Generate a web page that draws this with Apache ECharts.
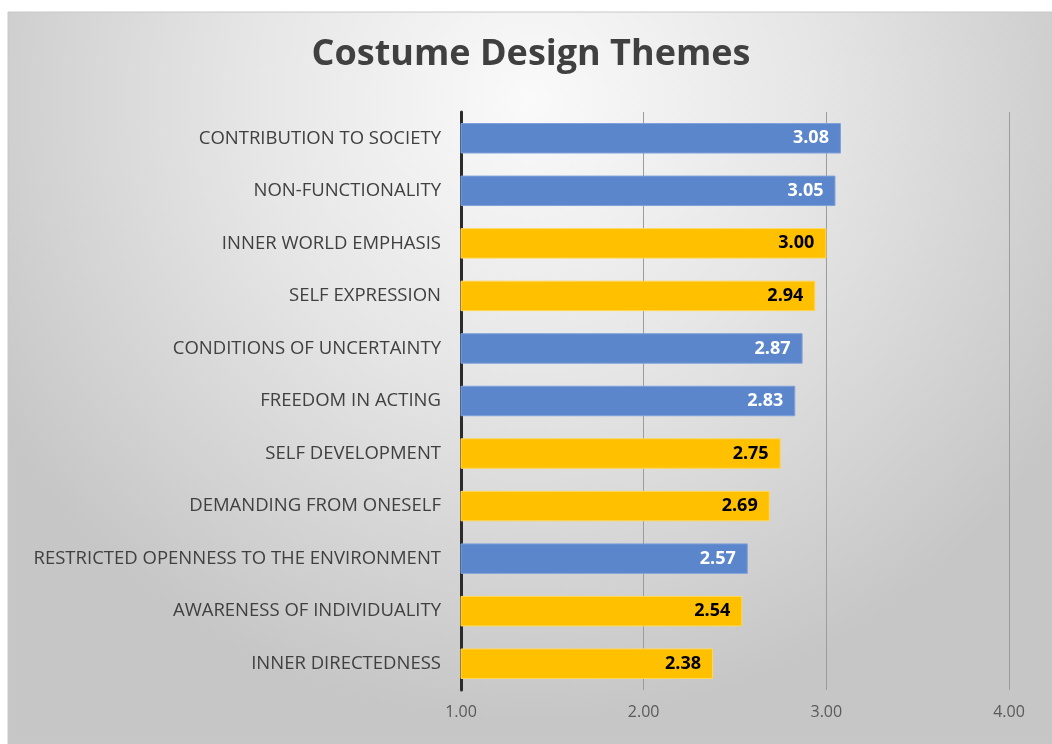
<!DOCTYPE html>
<html>
<head>
<meta charset="utf-8">
<style>
html,body{margin:0;padding:0;background:#ffffff;}
#chart{width:1052px;height:744px;}
</style>
<script src="https://cdn.jsdelivr.net/npm/echarts@6/dist/echarts.min.js"></script>
</head>
<body>
<div id="chart"></div>
<script>
const categories = [
  'CONTRIBUTION TO SOCIETY',
  'NON-FUNCTIONALITY',
  'INNER WORLD EMPHASIS',
  'SELF EXPRESSION',
  'CONDITIONS OF UNCERTAINTY',
  'FREEDOM IN ACTING',
  'SELF DEVELOPMENT',
  'DEMANDING FROM ONESELF',
  'RESTRICTED OPENNESS TO THE ENVIRONMENT',
  'AWARENESS OF INDIVIDUALITY',
  'INNER DIRECTEDNESS'
];
const values = [3.08, 3.05, 3.00, 2.94, 2.87, 2.83, 2.75, 2.69, 2.57, 2.54, 2.38];
const groups = ['blue','blue','yellow','yellow','blue','blue','yellow','yellow','blue','yellow','yellow'];
const xTicks = [1, 2, 3, 4];

const palette = {
  blue: {fill:'#5b86cb', border:'#7ea1da', label:'#ffffff'},
  yellow: {fill:'#ffc000', border:'#ffd75a', label:'#000000'}
};

const chart = echarts.init(document.getElementById('chart'), null, {renderer:'canvas'});
const data = values.map((v,i) => ({
  value: v,
  itemStyle: {color: palette[groups[i]].fill, borderColor: palette[groups[i]].border, borderWidth: 1},
  label: {color: palette[groups[i]].label}
}));

chart.setOption({
  backgroundColor: '#ffffff',
  animation: false,
  graphic: [{
    type: 'rect',
    z: -10,
    silent: true,
    shape: {x: 8, y: 12, width: 1044, height: 732},
    style: {
      fill: {
        type: 'radial', x: 0.5, y: 0.12, r: 0.85,
        colorStops: [
          {offset: 0, color: '#fafafa'},
          {offset: 0.45, color: '#e6e6e6'},
          {offset: 1, color: '#c6c6c6'}
        ]
      },
      stroke: '#c8c8c8', lineWidth: 1
    }
  }],
  title: {
    text: 'Costume Design Themes',
    left: 526, top: 32, textAlign: 'center',
    textStyle: {fontFamily: 'Open Sans', fontWeight: 'bold', fontSize: 36, color: '#404040'}
  },
  grid: {left: 461, right: 43, top: 112, bottom: 54, containLabel: false},
  xAxis: {
    type: 'value',
    min: xTicks[0], max: xTicks[xTicks.length-1], interval: 1,
    axisLine: {show: false},
    axisTick: {show: false},
    splitLine: {show: true, lineStyle: {color: '#9c9c9c', width: 1}},
    axisLabel: {
      formatter: v => v.toFixed(2), margin: 14,
      fontFamily: 'Open Sans', fontSize: 16, color: '#595959'
    }
  },
  yAxis: {
    type: 'category',
    data: categories,
    inverse: true,
    axisLine: {show: true, lineStyle: {color: '#2b2b2b', width: 3}},
    axisTick: {show: false},
    axisLabel: {margin: 20, fontFamily: 'Open Sans', fontSize: 18.5, color: '#404040'}
  },
  series: [{
    type: 'bar',
    data: data,
    barCategoryGap: '42%',
    label: {
      show: true, position: 'insideRight', distance: 12,
      formatter: p => p.value.toFixed(2),
      fontFamily: 'Open Sans', fontWeight: 'bold', fontSize: 18
    }
  }]
});
</script>
</body>
</html>
